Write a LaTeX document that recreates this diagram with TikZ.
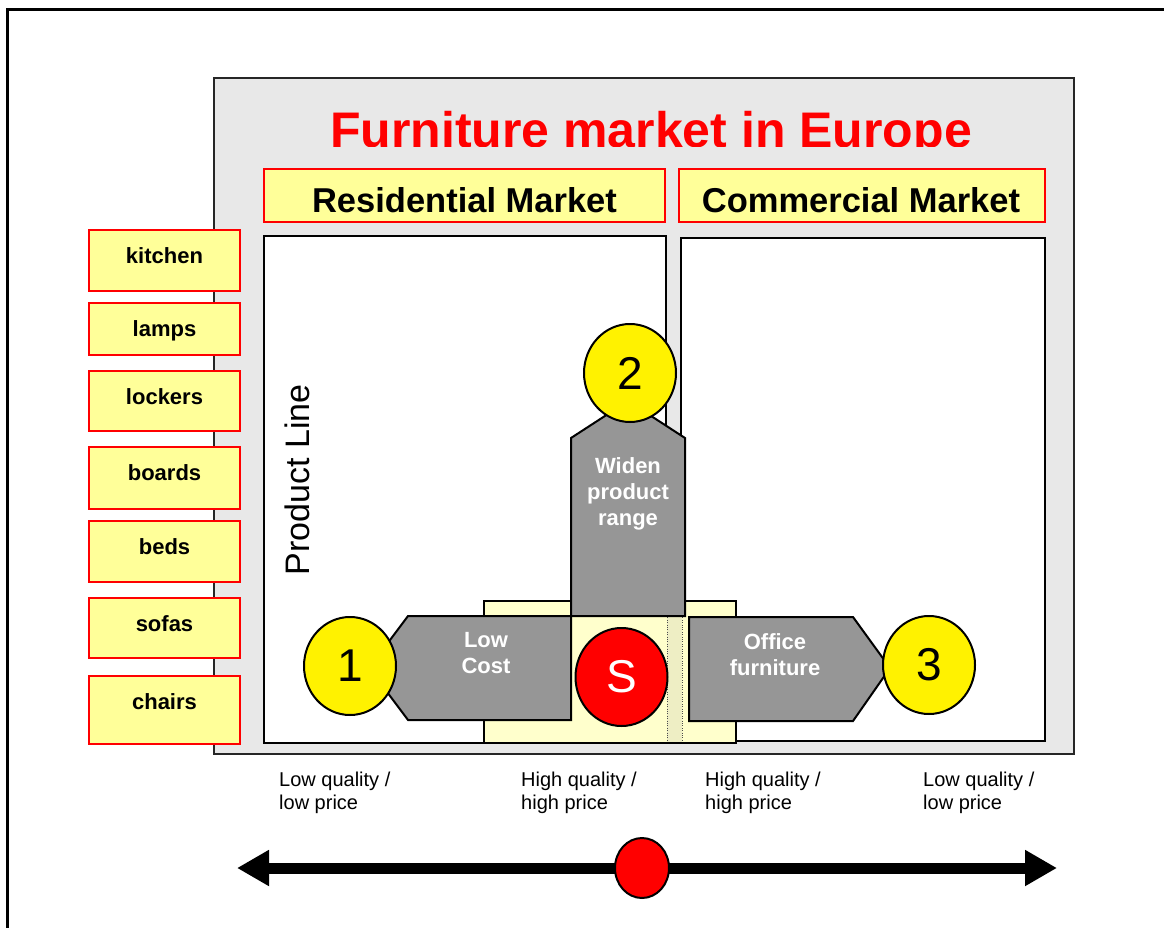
\documentclass[tikz,border=0pt]{standalone}
\usepackage{fontspec}
\setmainfont{Liberation Sans}
\usetikzlibrary{shapes.geometric,arrows.meta}
\definecolor{panelgray}{HTML}{E8E8E8}
\definecolor{boxyellow}{HTML}{FFFF99}
\definecolor{paleyellow}{HTML}{FFFFCC}
\definecolor{stripyellow}{HTML}{EEEEC4}
\definecolor{movegray}{HTML}{969696}

\begin{document}
\begin{tikzpicture}[x=1pt,y=-1pt,
  market/.style={draw=red,fill=boxyellow,line width=2pt},
  panel/.style={draw=black,fill=white,line width=2pt},
  itemtext/.style={anchor=base,font=\fontsize{22}{26}\selectfont\bfseries},
  move/.style={draw=black,fill=movegray,line width=2pt},
  movetext/.style={anchor=north,align=center,inner sep=0pt,text=white,font=\fontsize{22}{26}\selectfont\bfseries},
  goal/.style={ellipse,draw,line width=2pt,fill=yellow,minimum width=92pt,minimum height=98pt,inner sep=0pt,font=\fontsize{46}{46}\selectfont},
  axistext/.style={anchor=north west,align=left,inner sep=0pt,font=\fontsize{20}{23}\selectfont}]
\useasboundingbox (0,0) rectangle (1164,928);
\draw[line width=3pt] (7,928) -- (7,10) -- (1164,10);

% market frame
\draw[fill=panelgray,draw=black!85,line width=2pt] (214,78) rectangle (1074,754);
\begin{scope}
\clip (214,80) rectangle (1074,146.5);
\node[anchor=base,text=red,font=\fontsize{50}{50}\selectfont\bfseries] (title) at (651,147.5) {Furniture market in Europe};
\end{scope}
\draw[market] (264,169) rectangle (665,222);
\node[anchor=base,font=\fontsize{34.5}{34.5}\selectfont\bfseries] (residential) at (464.5,212) {Residential Market};
\draw[market] (679,169) rectangle (1045,222);
\node[anchor=base,font=\fontsize{34.5}{34.5}\selectfont\bfseries] (commercial) at (861,212) {Commercial Market};
\draw[panel] (264,236) rectangle (666,743);
\draw[panel] (681,238) rectangle (1045,741);
\node[rotate=90,font=\fontsize{34}{34}\selectfont] (productline) at (297,480) {Product Line};

% start area
\draw[fill=paleyellow,line width=2pt] (484,601) rectangle (736,743);
\fill[stripyellow] (667,603) rectangle (682,742);
\draw[dotted,black!70] (667,603) -- (667,742) (682,603) -- (682,742);

% moves
\draw[move] (571,616) -- (571,438) -- (628,401) -- (685,438) -- (685,616) -- cycle;
\node[movetext] (widen) at (628,457) {Widen\\product\\range};
\draw[move] (571,616) -- (408,616) -- (369,668) -- (408,720) -- (571,720) -- cycle;
\node[movetext] (lowcost) at (486,632) {Low\\Cost};
\draw[move] (689,617) -- (853,617) -- (890,668) -- (853,721) -- (689,721) -- cycle;
\node[movetext] (office) at (775,633) {Office\\furniture};

\node[goal] (one) at (350,666) {1};
\node[goal] (two) at (630,373) {2};
\node[goal] (three) at (929,665) {3};
\node[goal,fill=red,text=white] (start) at (621.5,677) {S};

% product lines
\foreach \word/\ytop/\ybot in {kitchen/230/291,lamps/303/355,lockers/371/431,boards/447/509,beds/521/582,sofas/598/658,chairs/676/744}{
  \draw[market] (89,\ytop) rectangle (240,\ybot);
  \node[itemtext] (\word) at (164.5,\ytop+33) {\word};
}

% quality axis
\node[axistext] (lowleft) at (279,772) {Low quality /\\low price};
\node[axistext] (highleft) at (521,772) {High quality /\\high price};
\node[axistext] (highright) at (705,772) {High quality /\\high price};
\node[axistext] (lowright) at (923,772) {Low quality /\\low price};
\coordinate (west) at (237,868);
\coordinate (east) at (1057,868);
\draw[line width=11pt,{Triangle[length=32pt,width=34pt]}-{Triangle[length=32pt,width=34pt]}] (west) -- (east);
\node[ellipse,draw,line width=2pt,fill=red,minimum width=54pt,minimum height=60pt] (centre) at (642,868) {};
\end{tikzpicture}
\end{document}
